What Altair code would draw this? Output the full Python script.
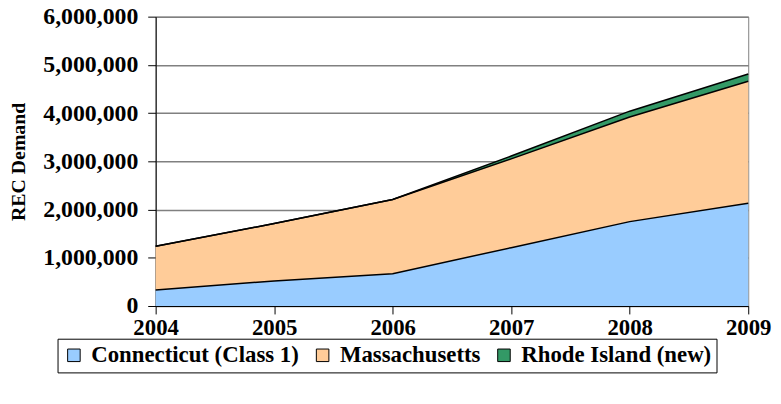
import altair as alt
import pandas as pd

years = [2004, 2005, 2006, 2007, 2008, 2009]
series = ["Connecticut (Class 1)", "Massachusetts", "Rhode Island (new)"]
connecticut = [330000, 520000, 670000, 1210000, 1750000, 2130000]
massachusetts = [910000, 1190000, 1540000, 1840000, 2170000, 2530000]
rhode_island = [0, 0, 0, 60000, 120000, 150000]
colors = ["#99CCFF", "#FFCC99", "#339966"]
y_ticks = [0, 1000000, 2000000, 3000000, 4000000, 5000000, 6000000]

rows = []
for order, (name, vals) in enumerate(zip(series, [connecticut, massachusetts, rhode_island])):
    for yr, v in zip(years, vals):
        rows.append({"year": yr, "series": name, "value": v, "order": order})
df = pd.DataFrame(rows)

FONT = "Liberation Serif"

x_enc = alt.X(
    "year:Q",
    scale=alt.Scale(domain=[2004, 2009], nice=False, zero=False),
    axis=alt.Axis(
        values=years, format="d", title=None, grid=False,
        labelFlush=False, labelOverlap=False, labelPadding=3,
        labelFont=FONT, labelFontSize=23, labelFontWeight="bold",
    ),
)
y_enc = alt.Y(
    "y1:Q",
    scale=alt.Scale(domain=[0, 6000000], nice=False),
    axis=alt.Axis(
        values=y_ticks, format=",.0f", title="REC Demand", grid=True,
        labelFlush=False, labelOverlap=False, labelPadding=10, titlePadding=14,
        labelFont=FONT, labelFontSize=24, labelFontWeight="bold", labelLimit=300,
    ),
)

base = alt.Chart(df).transform_stack(
    stack="value",
    as_=["y0", "y1"],
    groupby=["year"],
    sort=[alt.SortField("order", order="ascending")],
).encode(x=x_enc, y=y_enc)

area = base.mark_area(opacity=1).encode(
    y2="y0:Q",
    color=alt.Color(
        "series:N",
        scale=alt.Scale(domain=series, range=colors),
        sort=series,
        legend=alt.Legend(
            title=None, orient="none", legendX=-99, legendY=325,
            direction="horizontal", symbolType="square", symbolSize=160,
            symbolStrokeColor="black", symbolStrokeWidth=1, symbolOpacity=1,
            strokeColor="black", fillColor="white", padding=5,
            labelFont=FONT, labelFontSize=23, labelFontWeight="bold",
            labelColor="black", columnPadding=12, labelOffset=6, labelLimit=400,
        ),
    ),
    order=alt.Order("order:Q"),
)

lines = base.mark_line(color="black", strokeWidth=1.5).encode(
    detail="series:N",
)

chart = (
    alt.layer(area, lines)
    .properties(
        width=598, height=292,
        autosize=alt.AutoSizeParams(type="none"),
        padding={"left": 149, "top": 7, "right": 25, "bottom": 80},
    )
    .configure_view(stroke="#808080", strokeWidth=1)
    .configure_axis(
        domainColor="black", tickColor="black", tickSize=8, domainWidth=1,
        labelFont=FONT, labelFontSize=23, labelFontWeight="bold", labelColor="black",
        titleFont=FONT, titleFontSize=20, titleFontWeight="bold", titleColor="black",
        gridColor="#808080", gridWidth=1.5, gridOpacity=1,
    )
)

chart.save("out.html", embed_options={"renderer": "svg", "actions": False})
